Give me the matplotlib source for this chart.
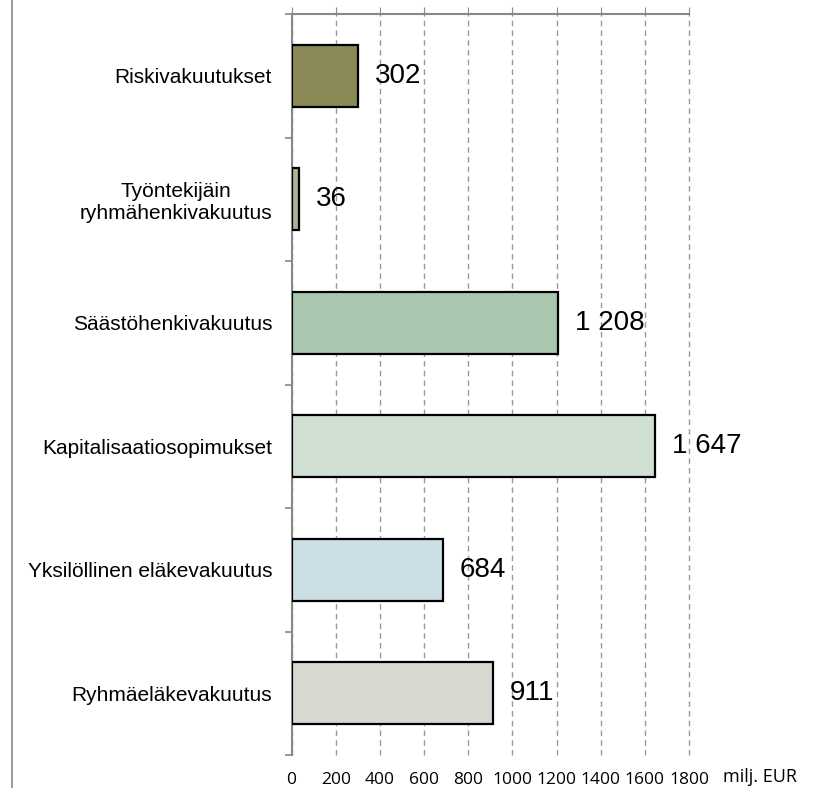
import matplotlib.pyplot as plt
from matplotlib.lines import Line2D

categories = ['Riskivakuutukset', 'Työntekijäin\nryhmähenkivakuutus', 'Säästöhenkivakuutus',
              'Kapitalisaatiosopimukset', 'Yksilöllinen eläkevakuutus', 'Ryhmäeläkevakuutus']
values = [302, 36, 1208, 1647, 684, 911]
value_labels = ['302', '36', '1 208', '1 647', '684', '911']
colors = ['#8b8a57', '#aeb199', '#a9c7ae', '#cfdfd1', '#ccdfe4', '#d8d8d0']
xticks = [0, 200, 400, 600, 800, 1000, 1200, 1400, 1600, 1800]

W, H = 831, 788
fig = plt.figure(figsize=(W / 100, H / 100), dpi=100)
ax = fig.add_axes([291.5 / W, 1 - 755 / H, (689 - 291.5) / W, (755 - 14) / H])

ypos = list(range(len(categories)))
ax.barh(ypos, values, height=0.5, color=colors, edgecolor='black', linewidth=1.6, zorder=3)
for y, v, lab in zip(ypos, values, value_labels):
    ax.annotate(lab, (v, y), xytext=(12, 0), textcoords='offset points',
                ha='left', va='center', fontsize=20, family='Liberation Sans', zorder=4)

ax.set_xlim(0, 1800)
ax.set_ylim(len(categories) - 0.5, -0.5)
ax.set_xticks(xticks)
ax.set_xticklabels([str(t) for t in xticks], family='Open Sans', fontsize=12.5)
ax.tick_params(axis='x', top=True, bottom=False, labeltop=False, labelbottom=True,
               direction='out', length=5, color='#888888', pad=7)
ax.grid(axis='x', linestyle=(0, (4, 3)), color='#999999', linewidth=1, zorder=0)
for gl in ax.get_xgridlines():
    gl.set_clip_on(False)

ax.set_yticks(ypos)
ax.set_yticklabels(categories, family='Liberation Sans', fontsize=15, multialignment='center')
ax.set_yticks([y - 0.5 for y in range(len(categories) + 1)], minor=True)
ax.tick_params(axis='y', which='major', length=0, pad=14)
ax.tick_params(axis='y', which='minor', length=5, color='#888888', width=1.2)

for s in ['right', 'bottom']:
    ax.spines[s].set_visible(False)
for s in ['left', 'top']:
    ax.spines[s].set_color('#888888')
    ax.spines[s].set_linewidth(1.5)

fig.text(760 / W, 1 - 777 / H, 'milj. EUR', family='Open Sans', fontsize=13,
         ha='center', va='center')
fig.add_artist(Line2D([11.5 / W, 11.5 / W], [0, 1], color='#888888', linewidth=1.2,
                      transform=fig.transFigure))

fig.savefig('out.png', dpi=100)
